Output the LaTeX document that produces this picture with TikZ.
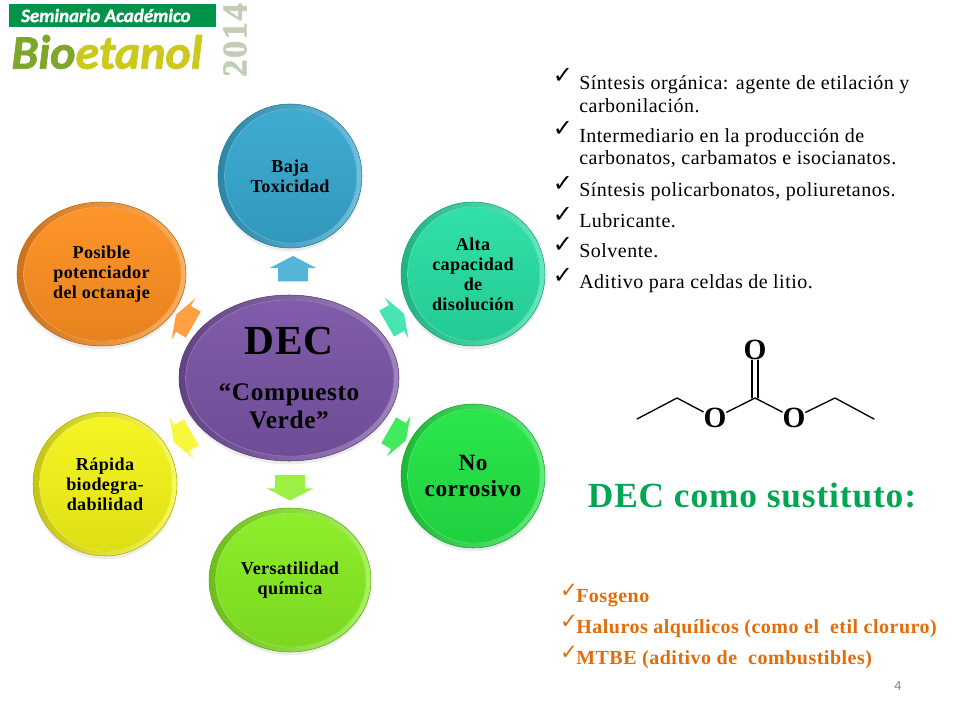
\documentclass[tikz,border=0pt]{standalone}
\usepackage{xcolor}
\usepackage{fontspec}
\usetikzlibrary{shapes.geometric,shapes.arrows,shadows,calc}
\setmainfont{Liberation Serif}
\newfontfamily\serifancha[LetterSpace=2]{Liberation Serif}
\newfontfamily\serifmedia[LetterSpace=2.5]{Liberation Serif}
\newfontfamily\serifgordo[LetterSpace=4,BoldFeatures={FakeBold=1.5}]{Liberation Serif}
\newfontfamily\marcafont{DejaVu Sans}
\newfontfamily\logofont[BoldItalicFeatures={FakeBold=1.6}]{Carlito}
\definecolor{verdedec}{HTML}{00A651}
\definecolor{naranjatxt}{HTML}{E36C0A}
\definecolor{verdelogo}{HTML}{00934A}
\definecolor{azul}{HTML}{36A8D0}
\definecolor{turquesa}{HTML}{28DFA4}
\definecolor{verde}{HTML}{22E644}
\definecolor{lima}{HTML}{88EE22}
\definecolor{amarillo}{HTML}{F6F618}
\definecolor{naranja}{HTML}{FF9020}
\definecolor{morado}{HTML}{7A54A6}
\tikzset{
	burbuja/.style={ellipse, inner sep=0pt, align=center, draw=#1!70!black, line width=0.4pt,
		left color=#1!80!black, right color=#1!72!white,
		drop shadow={opacity=0.15, shadow xshift=0pt, shadow yshift=-2.5pt},
		path picture={\fill[top color=#1!95!white, bottom color=#1!90!black, draw=#1!70!white, line width=0.4pt]
			let \p1=(path picture bounding box.north east), \p2=(path picture bounding box.center) in
			(\x2+0.6pt,\y2) ellipse [x radius=\x1-\x2-4.4pt, y radius=\y1-\y2-3.6pt];}},
	texto/.style={font=\bfseries\serifancha\fontsize{13.6}{15}\selectfont},
	flecha/.style={single arrow, inner sep=0pt, minimum height=19pt, text height=22pt, text depth=0pt,
		single arrow head extend=6.5pt, single arrow tip angle=125, fill=#1},
	diagonal/.style={flecha=#1, minimum height=15pt, single arrow tip angle=140},
	marca/.style={font=\marcafont\fontsize{18}{18}\selectfont, inner sep=0pt},
	marcanaranja/.style={font=\marcafont\fontsize{16}{16}\selectfont, inner sep=0pt, text=naranjatxt},
	item/.style={anchor=west, align=left, inner sep=0pt, font=\serifmedia\fontsize{15}{17}\selectfont},
	opcion/.style={anchor=west, inner sep=0pt, text=naranjatxt, font=\bfseries\serifmedia\fontsize{15}{16}\selectfont},
	atomo/.style={font=\bfseries\fontsize{22}{22}\selectfont, inner sep=0pt},
	enlace/.style={line width=1pt, line cap=round}
}
\begin{document}
\begin{tikzpicture}[x=0.75pt, y=-0.75pt]
	\useasboundingbox (0,0) rectangle (960,720);

	% Logo of the seminar
	\node[fill=verdelogo, minimum width=155pt, minimum height=17pt, inner sep=0pt, text=white,
		font=\logofont\bfseries\itshape\fontsize{14.2}{14}\selectfont] (seminario) at (112.5,15.5) {\hspace{-10pt}Seminario Académico};
	\node[inner sep=0pt, font=\logofont\bfseries\itshape\fontsize{36}{36}\selectfont] (logo) at (107,52)
		{\textcolor[HTML]{7EA62B}{Bio}\textcolor[HTML]{CBCA1C}{etanol}};
	\node[rotate=90, inner sep=0pt, text={rgb,255:red,192;green,206;blue,180}, font=\bfseries\serifgordo\fontsize{26}{26}\selectfont] (anio) at (235,40) {2014};

	% Define the bubbles with specific positions
	\node[burbuja=azul, texto, minimum width=108pt, minimum height=108pt] (baja) at (290,176) {Baja\\Toxicidad};
	\node[burbuja=turquesa, texto, minimum width=108pt, minimum height=108pt] (alta) at (473,274) {Alta\\capacidad\\de\\disolución};
	\node[burbuja=verde, minimum width=108pt, minimum height=108pt, font=\bfseries\serifancha\fontsize{17.5}{19}\selectfont] (corrosivo) at (473,476) {No\\corrosivo};
	\node[burbuja=lima, texto, minimum width=121.5pt, minimum height=108pt] (versatil) at (290,580) {Versatilidad\\química};
	\node[burbuja=amarillo, texto, minimum width=108pt, minimum height=108pt] (rapida) at (105,484) {Rápida\\biodegra-\\dabilidad};
	\node[burbuja=naranja, texto, minimum width=126.75pt, minimum height=108pt] (posible) at (101.5,274) {Posible\\potenciador\\del octanaje};
	\node[burbuja=morado, minimum width=165pt, minimum height=124.5pt, font=\bfseries\serifmedia\fontsize{19}{21}\selectfont] (dec) at (289,378)
		{\fontsize{31}{34}\selectfont DEC\\[14pt]“Compuesto\\Verde”};

	% Draw the arrows around the central bubble
	\node[flecha=azul!85!white, rotate=90] (f1) at (293,272.5) {};
	\node[diagonal=turquesa!85!white, rotate=30] (f2) at (393,320) {};
	\node[diagonal=verde!85!white, rotate=-30] (f3) at (395,434) {};
	\node[flecha=lima!85!white, rotate=-90] (f4) at (290,484) {};
	\node[diagonal=amarillo!85!white, rotate=210] (f5) at (185,436) {};
	\node[diagonal=naranja!85!white, rotate=150] (f6) at (187,321) {};

	% List of uses
	\node[marca] (m1) at (563,76) {✓};
	\node[item] (u1) at (579,94) {Síntesis orgánica: agente de etilación y\\carbonilación.};
	\node[marca] (m2) at (563,129) {✓};
	\node[item] (u2) at (579,148) {Intermediario en la producción de\\carbonatos, carbamatos e isocianatos.};
	\node[marca] (m3) at (563,184) {✓};
	\node[item] (u3) at (579,192) {Síntesis policarbonatos, poliuretanos.};
	\node[marca] (m4) at (563,215) {✓};
	\node[item] (u4) at (579,221) {Lubricante.};
	\node[marca] (m5) at (563,245) {✓};
	\node[item] (u5) at (579,251) {Solvente.};
	\node[marca] (m6) at (563,276) {✓};
	\node[item] (u6) at (579,284) {Aditivo para celdas de litio.};

	% Draw the molecule
	\coordinate (ccentro) at (755,398);
	\coordinate (ch2a) at (677,398);
	\coordinate (ch3a) at (637,419);
	\coordinate (ch2b) at (835,398);
	\coordinate (ch3b) at (874,419);
	\node[atomo] (o1) at (755,350) {O};
	\node[atomo] (o2) at (715,418) {O};
	\node[atomo] (o3) at (794,418) {O};
	\draw[enlace] (ch3a) -- (ch2a) -- (o2) -- (ccentro) -- (o3) -- (ch2b) -- (ch3b);
	\draw[enlace] ([xshift=-2.2pt]ccentro) -- ([xshift=-2.2pt]o1.south);
	\draw[enlace] ([xshift=2.2pt]ccentro) -- ([xshift=2.2pt]o1.south);

	% Title and substitutes
	\node[inner sep=0pt, text=verdedec, font=\bfseries\serifmedia\fontsize{26.5}{30}\selectfont] (titulo) at (752,495) {DEC como sustituto:};
	\node[marcanaranja] (n1) at (569,591) {✓};
	\node[opcion] (s1) at (576,598) {Fosgeno};
	\node[marcanaranja] (n2) at (569,622) {✓};
	\node[opcion] (s2) at (576,629) {Haluros alquílicos (como el\ \ etil cloruro)};
	\node[marcanaranja] (n3) at (569,653) {✓};
	\node[opcion] (s3) at (576,660) {MTBE (aditivo de\ \ combustibles)};

	% Slide number
	\node[inner sep=0pt, text=gray, font=\logofont\fontsize{10.5}{11}\selectfont] (numero) at (898,686) {4};
\end{tikzpicture}
\end{document}
